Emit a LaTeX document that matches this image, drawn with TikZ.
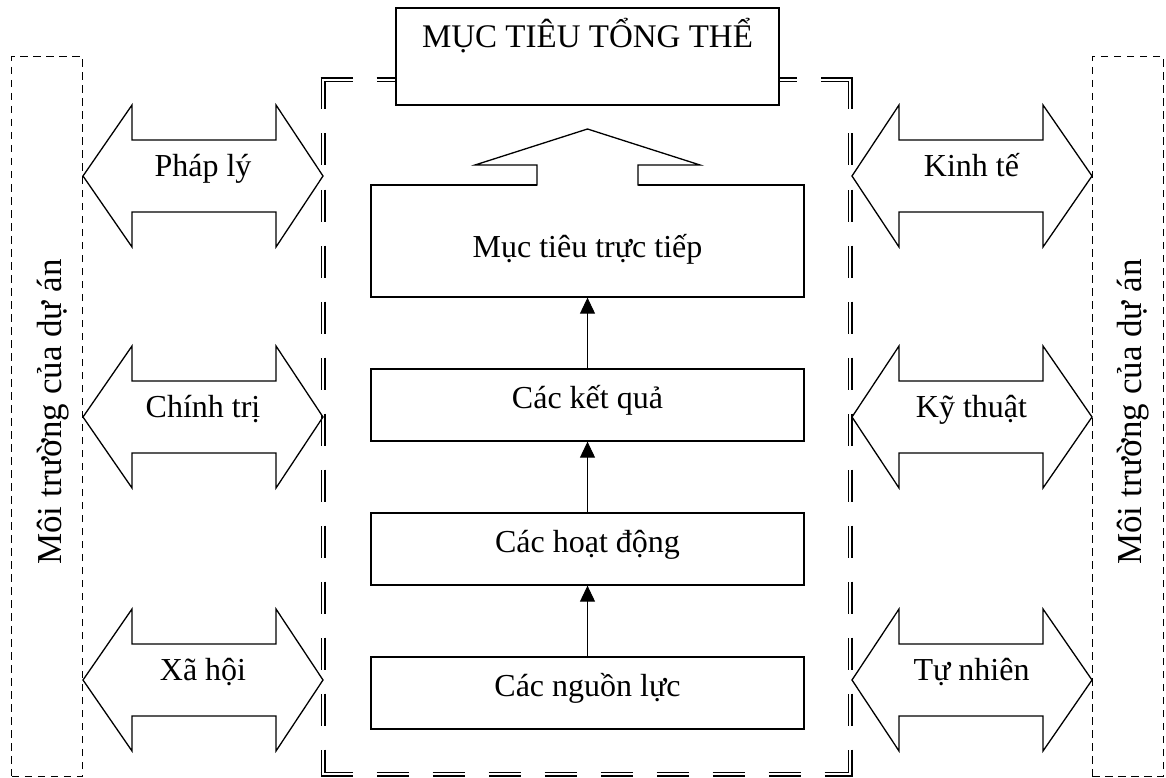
\documentclass[tikz,border=0pt]{standalone}
\usepackage{fontspec}
\setmainfont{Liberation Serif}
\usetikzlibrary{arrows.meta}
\begin{document}
\begin{tikzpicture}[x=1pt,y=-1pt,
  box/.style={draw, line width=1.3pt, minimum width=433pt, minimum height=72pt, inner sep=0pt, fill=white},
  txt/.style={font=\fontsize{32}{38}\selectfont, inner sep=0pt, anchor=base},
  flow/.style={line width=1pt, -{Triangle[length=16pt,width=15pt]}},
  env/.style={draw, line width=1pt, dash pattern=on 7.5pt off 5.5pt, minimum width=71pt, minimum height=719pt, inner sep=0pt},
  blockln/.style={line width=1.3pt, line join=miter},
  fk/.style={line width=5pt, black},
  fw/.style={line width=2.4pt, white},
]
\useasboundingbox (0,0) rectangle (1166,778);

% project environment strips
\node[env] (envL) at (47.3,416.5) {};
\node[env] (envR) at (1127.5,416.5) {};
\node[txt, font=\fontsize{35}{42}\selectfont, rotate=90] (envLT) at (61,412) {Môi trường của dự án};
\node[txt, font=\fontsize{35}{42}\selectfont, rotate=90] (envRT) at (1141.5,412) {Môi trường của dự án};

% double long-dashed project frame: 32pt dashes every 56pt, dark strokes first
\foreach \k in {0,...,12} {
  \draw[fk] (323,{77.5+56*\k}) -- (323,{min(109.5+56*\k,776.5)});
  \draw[fk] (850,{77.5+56*\k}) -- (850,{min(109.5+56*\k,776.5)});
}
\foreach \k in {0,...,9} {
  \draw[fk] ({320.5+56*\k},774) -- ({min(352.5+56*\k,852.5)},774);
}
\draw[fk] (320.5,80) -- (352.5,80) (376.5,80) -- (408.5,80)
          (852.5,80) -- (820.5,80) (796.5,80) -- (764.5,80);
% white cores of the double strokes
\foreach \k in {0,...,12} {
  \draw[fw] (323,{max(77.5+56*\k,78.8)}) -- (323,{min(109.5+56*\k,775.2)});
  \draw[fw] (850,{max(77.5+56*\k,78.8)}) -- (850,{min(109.5+56*\k,775.2)});
}
\foreach \k in {0,...,9} {
  \draw[fw] ({max(320.5+56*\k,321.8)},774) -- ({min(352.5+56*\k,851.2)},774);
}
\draw[fw] (321.8,80) -- (352.5,80) (376.5,80) -- (408.5,80)
          (851.2,80) -- (820.5,80) (796.5,80) -- (764.5,80);

% overall objective
\node[box, minimum width=383pt, minimum height=97pt] (goal) at (587.5,56.5) {};
\node[txt, font=\fontsize{33}{40}\selectfont] (goalT) at (587.5,48) {MỤC TIÊU TỔNG THỂ};

% logical chain
\node[box, minimum height=112pt] (direct) at (587.5,241) {};
\node[txt] (directT) at (587.5,257) {Mục tiêu trực tiếp};
\node[box] (results) at (587.5,405) {};
\node[txt] (resultsT) at (587.5,408) {Các kết quả};
\node[box] (acts) at (587.5,549) {};
\node[txt] (actsT) at (587.5,552) {Các hoạt động};
\node[box] (res) at (587.5,693) {};
\node[txt] (resT) at (587.5,696) {Các nguồn lực};

\draw[flow] (res.north) -- (acts.south);
\draw[flow] (acts.north) -- (results.south);
\draw[flow] (results.north) -- (direct.south);

% block arrow from the direct objective up to the overall one
\fill[white] (537,186) -- (537,165) -- (475,165) -- (587.5,129) -- (700,165) -- (638,165) -- (638,186) -- cycle;
\draw[blockln] (537,185.6) -- (537,165) -- (475,165) -- (587.5,129) -- (700,165) -- (638,165) -- (638,185.6);

% two-way influences of the environment
\foreach \cy/\lab/\nm in {176/Pháp lý/law, 417/Chính trị/pol, 680/Xã hội/soc} {
  \draw[blockln] (83,\cy) -- (132,\cy-71) -- (132,\cy-36) -- (276,\cy-36) -- (276,\cy-71)
    -- (323,\cy) -- (276,\cy+71) -- (276,\cy+36) -- (132,\cy+36) -- (132,\cy+71) -- cycle;
  \node[txt] (\nm) at (203,\cy) {\lab};
}
\foreach \cy/\lab/\nm in {176/Kinh tế/eco, 417/Kỹ thuật/tech, 680/Tự nhiên/nat} {
  \draw[blockln] (852,\cy) -- (899,\cy-71) -- (899,\cy-36) -- (1043,\cy-36) -- (1043,\cy-71)
    -- (1092,\cy) -- (1043,\cy+71) -- (1043,\cy+36) -- (899,\cy+36) -- (899,\cy+71) -- cycle;
  \node[txt] (\nm) at (971.5,\cy) {\lab};
}
\end{tikzpicture}
\end{document}
